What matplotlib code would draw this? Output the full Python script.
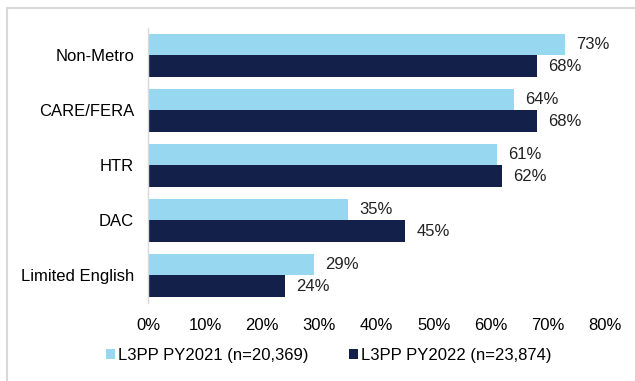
import matplotlib
matplotlib.use('Agg')
from matplotlib import pyplot as plt
from matplotlib.patches import Rectangle
import numpy as np

plt.rcParams['font.family'] = ['Liberation Sans', 'DejaVu Sans']

categories = ['Non-Metro', 'CARE/FERA', 'HTR', 'DAC', 'Limited English']
py2021 = [73, 64, 61, 35, 29]
py2022 = [68, 68, 62, 45, 24]
series_names = ['L3PP PY2021 (n=20,369)', 'L3PP PY2022 (n=23,874)']
xticks = [0, 10, 20, 30, 40, 50, 60, 70, 80]

light = '#97d7ef'
dark = '#13214a'
fs = 12

fig = plt.figure(figsize=(6.35, 3.81), dpi=100)
ax = fig.add_axes([0.233, 0.205, 0.72, 0.722])

y = np.arange(len(categories))
h = 0.39
b1 = ax.barh(y - h/2, py2021, height=h, color=light, label=series_names[0])
b2 = ax.barh(y + h/2, py2022, height=h, color=dark, label=series_names[1])

for bars, vals in ((b1, py2021), (b2, py2022)):
    for bar, v in zip(bars, vals):
        ax.annotate('%d%%' % v, (v, bar.get_y() + bar.get_height()/2),
                    xytext=(8, 0), textcoords='offset points',
                    va='center', ha='left', fontsize=fs, color='#222222')

ax.set_ylim(len(categories) - 0.5, -0.5)
ax.set_xlim(0, 80)
ax.set_yticks(y)
ax.set_yticklabels(categories, fontsize=fs)
ax.set_xticks(xticks)
ax.set_xticklabels(['%d%%' % t for t in xticks], fontsize=fs)
ax.tick_params(length=0)
ax.tick_params(axis='x', pad=11)
ax.tick_params(axis='y', pad=10)
for s in ['top', 'right', 'bottom']:
    ax.spines[s].set_visible(False)
ax.spines['left'].set_color('#d9d9d9')
ax.spines['left'].set_linewidth(1.0)

leg = fig.legend(handles=[b1, b2], loc='center', bbox_to_anchor=(0.518, 0.068),
                 ncol=2, frameon=False, fontsize=fs, handlelength=0.55,
                 handleheight=0.55, handletextpad=0.2, columnspacing=2.4)

# outer border of the figure box
fig.patches.append(Rectangle((0.011, -0.05), 1.1, 1.029, transform=fig.transFigure,
                             fill=False, edgecolor='#d9d9d9', linewidth=1.5))

fig.savefig('out.png', dpi=100)
